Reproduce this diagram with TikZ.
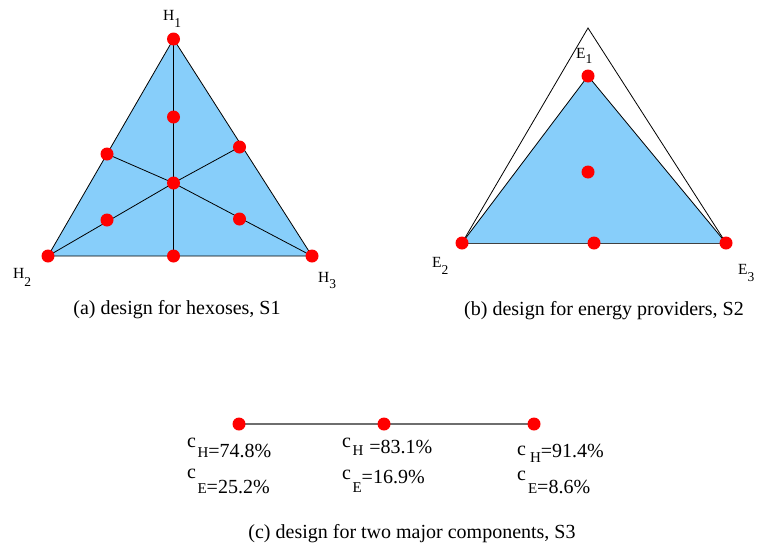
\documentclass[tikz,border=0pt]{standalone}
\usepackage{fontspec}
\setmainfont{Liberation Serif}
\definecolor{skyfill}{RGB}{135,206,250}
\definecolor{linegray}{RGB}{110,110,110}
\newcommand\cpart[5]{\raisebox{#1}{c}\hspace{#2}\raisebox{#3}{\fontsize{15}{15}\selectfont #4}#5}
\newcommand\vlab[3]{{\fontsize{15.5}{16}\selectfont #1}\raisebox{#3}{\fontsize{13.5}{14}\selectfont #2}}
\tikzset{
  dot/.style={circle,draw=none,minimum size=13pt,inner sep=0pt},
  reddot/.style={fill=red},
  edge/.style={draw=black,line width=0.8pt},
  vlabel/.style={anchor=base west,inner sep=0pt},
  caption/.style={anchor=base,inner sep=0pt,font=\fontsize{20}{22}\selectfont},
  clabel/.style={anchor=base west,inner sep=0pt,font=\fontsize{20}{22}\selectfont},
}
\begin{document}
\begin{tikzpicture}[x=1pt,y=-1pt]
\useasboundingbox (0,0) rectangle (760,549);
% ---------- (a)
\coordinate (h1) at (173.5,39);
\coordinate (h2) at (48,256);
\coordinate (h3) at (312,256);
\fill[skyfill] (h1) -- (h2) -- (h3) -- cycle;
\node[dot] (a1) at (h1) {};
\node[dot] (a2) at (h2) {};
\node[dot] (a3) at (h3) {};
\node[dot] (ac) at (173.5,183) {};
\node[dot] (ab) at (173.5,256) {};
\node[dot] (au) at (173.5,117) {};
\node[dot] (al) at (107,154) {};
\node[dot] (ar) at (239.5,147) {};
\node[dot] (all) at (107,220) {};
\node[dot] (alr) at (239.5,219) {};
\draw[edge,line join=miter] (h1) -- (h2) -- (h3) -- cycle;
\draw[edge] (a1.center) -- (ab.center);
\draw[edge] (a2.center) -- (ac.center) -- (ar.center);
\draw[edge] (a3.center) -- (ac.center) -- (al.center);
\foreach \n in {a1,a2,a3,ac,ab,au,al,ar,all,alr} \fill[reddot] (\n) circle (6.5pt);
\node[vlabel] (lh1) at (163,20) {\vlab{H}{1}{-7pt}};
\node[vlabel] (lh2) at (13,278) {\vlab{H}{2}{-8pt}};
\node[vlabel] (lh3) at (318,282) {\vlab{H}{3}{-6pt}};
\node[caption] (capa) at (177,314) {(a) design for hexoses, S1};
% ---------- (b)
\coordinate (etop) at (588,28);
\coordinate (e1) at (588,76);
\coordinate (e2) at (462,243);
\coordinate (e3) at (726,243);
\fill[skyfill] (e1) -- (e2) -- (e3) -- cycle;
\node[dot] (b1) at (e1) {};
\node[dot] (b2) at (e2) {};
\node[dot] (b3) at (e3) {};
\node[dot] (bc) at (588,172) {};
\node[dot] (bb) at (594,243) {};
\draw[edge] (b1.center) -- (b2.center);
\draw[edge] (b1.center) -- (b3.center);
\draw[edge,draw=black!75] (b2.center) -- (b3.center);
\draw[edge] (b2.center) -- (etop) -- (b3.center);
\foreach \n in {b1,b2,b3,bc,bb} \fill[reddot] (\n) circle (6.5pt);
\node[vlabel] (le1) at (576,58) {\vlab{E}{1}{-5pt}};
\node[vlabel] (le2) at (432,267) {\vlab{E}{2}{-7pt}};
\node[vlabel] (le3) at (738,274) {\vlab{E}{3}{-7pt}};
\node[caption] (capb) at (604,315) {(b) design for energy providers, S2};
% ---------- (c)
\node[dot] (c1) at (239,424) {};
\node[dot] (c2) at (384,424) {};
\node[dot] (c3) at (534,424) {};
\draw[draw=linegray,line width=1.6pt] (c1.center) -- (c3.center);
\foreach \n in {c1,c2,c3} \fill[reddot] (\n) circle (6.5pt);
\node[clabel] (t1) at (187,457) {\cpart{10pt}{1.5pt}{0pt}{H}{=74.8\%}};
\node[clabel] (t2) at (187,493) {\cpart{15pt}{1.5pt}{0pt}{E}{=25.2\%}};
\node[clabel] (t3) at (342,453) {\cpart{6pt}{1.5pt}{-2pt}{H}{\hspace{6pt}=83.1\%}};
\node[clabel] (t4) at (342,483) {\cpart{4pt}{1.5pt}{-9pt}{E}{=16.9\%}};
\node[clabel] (t5) at (517,457) {\cpart{2pt}{4pt}{-5pt}{H}{=91.4\%}};
\node[clabel] (t6) at (517,493) {\cpart{13pt}{2pt}{0pt}{E}{=8.6\%}};
\node[caption] (capc) at (412,538) {(c) design for two major components, S3};
\end{tikzpicture}
\end{document}
